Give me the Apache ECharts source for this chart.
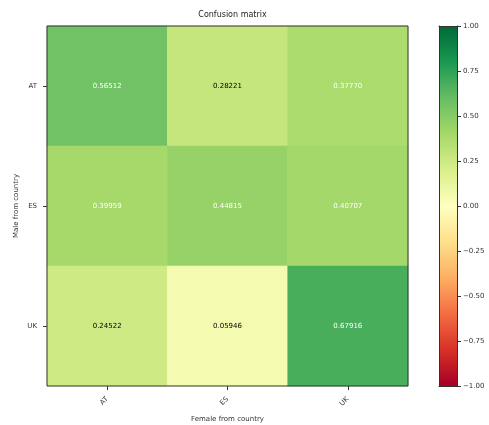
<!DOCTYPE html>
<html>
<head>
<meta charset="utf-8">
<script src="https://cdn.jsdelivr.net/npm/echarts@6/dist/echarts.min.js"></script>
<style>
  html, body { margin: 0; padding: 0; background: #fff; }
  #chart { width: 489px; height: 425px; }
</style>
</head>
<body>
<div id="chart"></div>
<script>
// Countries on both axes
const femaleCountries = ['AT', 'ES', 'UK'];
const maleCountries = ['AT', 'ES', 'UK'];

// Matrix rows (male) by columns (female)
const rowAT = [0.56512, 0.28221, 0.37770];
const rowES = [0.39959, 0.44815, 0.40707];
const rowUK = [0.24522, 0.05946, 0.67916];
const matrixRows = [rowAT, rowES, rowUK];

// Colour bar range and ticks
const scaleMin = -1;
const scaleMax = 1;
const scaleStep = 0.25;

// RdYlGn palette, low to high
const rdYlGn = ['#a50026', '#d73027', '#f46d43', '#fdae61', '#fee08b', '#ffffbf',
                '#d9ef8b', '#a6d96a', '#66bd63', '#1a9850', '#006837'];

const FONT = 'DejaVu Sans';
const allValues = matrixRows.flat();
const thresh = Math.max(...allValues) / 2;

const cells = [];
matrixRows.forEach((row, r) => {
  row.forEach((v, c) => {
    cells.push({
      value: [c, r, v],
      label: { color: v > thresh ? '#ffffff' : '#000000' }
    });
  });
});

const fmtTick = v => (v < 0 ? '\u2212' : '') + Math.abs(v).toFixed(2);

const frameAxis = (extra) => Object.assign({
  type: 'value', gridIndex: 1, z: 10,
  axisLine: { show: true, onZero: false, lineStyle: { color: '#333', width: 1 } },
  axisTick: { show: false }, axisLabel: { show: false }, splitLine: { show: false }
}, extra);

const chart = echarts.init(document.getElementById('chart'), null, { renderer: 'canvas' });
chart.setOption({
  animation: false,
  backgroundColor: '#ffffff',
  title: {
    text: 'Confusion matrix',
    left: 227.5, top: 6, textAlign: 'center',
    textStyle: { fontFamily: FONT, fontSize: 8, fontWeight: 'normal', color: '#222' }
  },
  grid: [
    { left: 47, top: 26, width: 361, height: 360, containLabel: false, outerBoundsMode: 'none',
      show: true, borderColor: '#333', borderWidth: 1, backgroundColor: 'transparent', z: 5 },
    { left: 439, top: 26, width: 18, height: 360, containLabel: false, outerBoundsMode: 'none', show: false }
  ],
  xAxis: [
    {
      type: 'category', gridIndex: 0, data: femaleCountries,
      name: 'Female from country', nameLocation: 'middle', nameGap: 30,
      nameTextStyle: { fontFamily: FONT, fontSize: 7, color: '#333' },
      axisLine: { show: false },
      axisTick: { show: true, alignWithLabel: true, length: 4, lineStyle: { color: '#333' } },
      axisLabel: { fontFamily: FONT, fontSize: 7, color: '#333', rotate: 45, margin: 12 },
      splitLine: { show: false }, splitArea: { show: false }
    },
    frameAxis({ position: 'bottom', min: 0, max: 1 }),
    frameAxis({ position: 'top', min: 0, max: 1 })
  ],
  yAxis: [
    {
      type: 'category', gridIndex: 0, data: maleCountries, inverse: true,
      name: 'Male from country', nameLocation: 'middle', nameGap: 27, nameRotate: 90,
      nameMoveOverlap: false,
      nameTextStyle: { fontFamily: FONT, fontSize: 7, color: '#333' },
      axisLine: { show: false },
      axisTick: { show: true, alignWithLabel: true, length: 4, lineStyle: { color: '#333' } },
      axisLabel: { fontFamily: FONT, fontSize: 7, color: '#333', margin: 10 },
      splitLine: { show: false }, splitArea: { show: false }
    },
    {
      type: 'value', gridIndex: 1, position: 'right', min: scaleMin, max: scaleMax, interval: scaleStep,
      z: 10,
      axisLine: { show: true, onZero: false, lineStyle: { color: '#333', width: 1 } },
      axisTick: { show: true, length: 4, lineStyle: { color: '#333' } },
      axisLabel: { fontFamily: FONT, fontSize: 7, color: '#333', margin: 6, formatter: fmtTick },
      splitLine: { show: false }
    },
    frameAxis({ position: 'left', min: scaleMin, max: scaleMax, interval: scaleStep })
  ],
  visualMap: {
    type: 'continuous', seriesIndex: 0, show: false,
    min: scaleMin, max: scaleMax,
    inRange: { color: rdYlGn }
  },
  series: [{
    type: 'heatmap',
    xAxisIndex: 0, yAxisIndex: 0,
    data: cells,
    label: {
      show: true, fontFamily: FONT, fontSize: 7,
      formatter: p => p.value[2].toFixed(5)
    },
    itemStyle: { borderWidth: 0 }
  }]
});

// Colour bar: gradient rectangle placed over the colour-bar grid's scale
const topLeft = chart.convertToPixel({ xAxisIndex: 1, yAxisIndex: 1 }, [0, scaleMax]);
const botRight = chart.convertToPixel({ xAxisIndex: 1, yAxisIndex: 1 }, [1, scaleMin]);
const stops = rdYlGn.map((c, i) => ({ offset: 1 - i / (rdYlGn.length - 1), color: c }));
chart.setOption({
  graphic: [{
    type: 'rect', z: 1,
    shape: {
      x: topLeft[0], y: topLeft[1],
      width: botRight[0] - topLeft[0], height: botRight[1] - topLeft[1]
    },
    style: { fill: new echarts.graphic.LinearGradient(0, 0, 0, 1, stops) },
    silent: true
  }]
});
</script>
</body>
</html>
